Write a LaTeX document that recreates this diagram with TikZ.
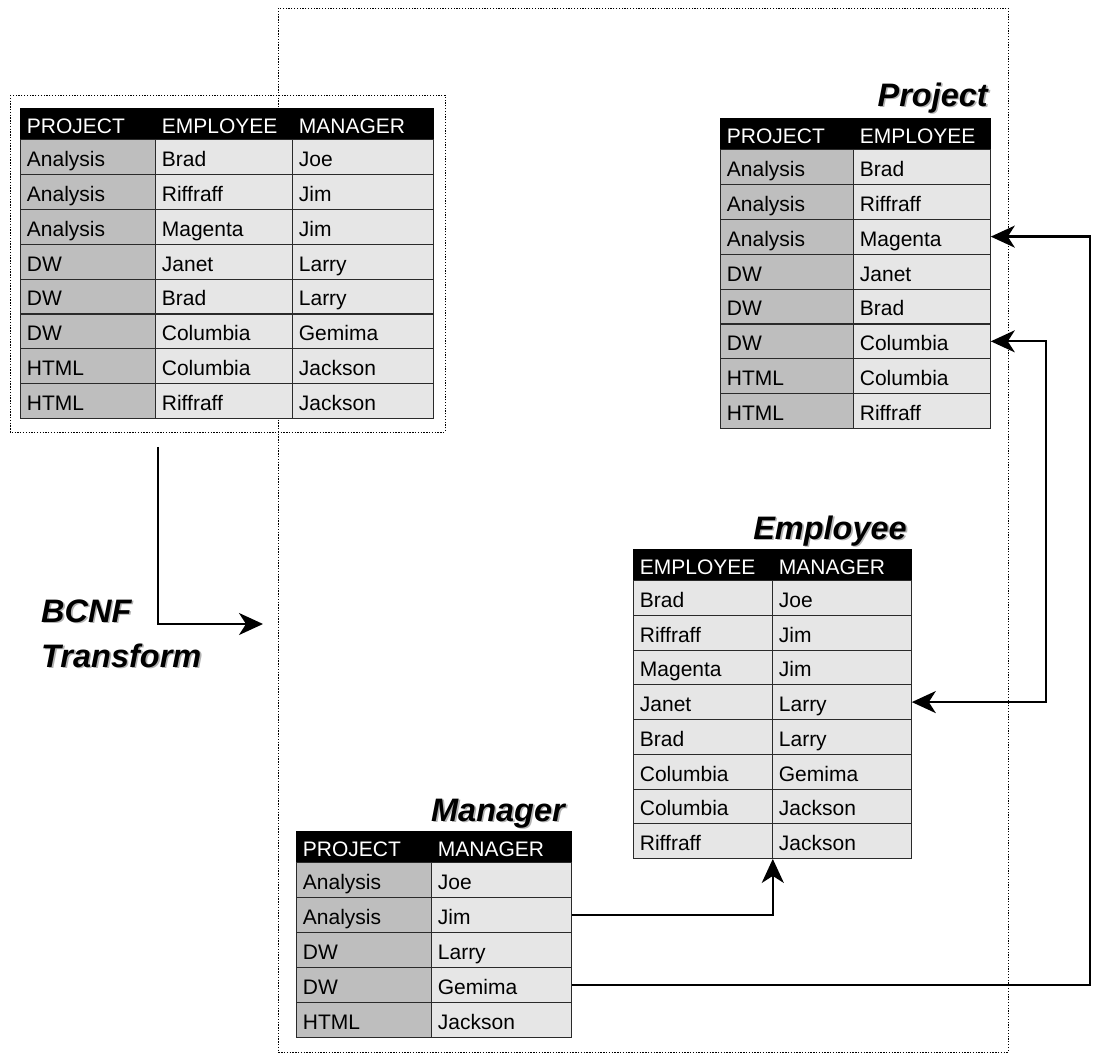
\documentclass[tikz,border=0pt]{standalone}
\usepackage{fontspec}
\setmainfont{Liberation Sans}
\usetikzlibrary{arrows.meta,positioning,calc}
\definecolor{keygray}{HTML}{BEBEBE}
\definecolor{datagray}{HTML}{E6E6E6}
\definecolor{rulegray}{HTML}{2A2A2A}
\newcommand{\cellfont}{\fontsize{21}{24}\selectfont}
\newcommand{\ttlfont}{\fontsize{32.5}{45}\selectfont\bfseries\itshape}
\newcommand{\shadowed}[1]{\makebox[0pt][l]{\hspace{1.6pt}\raisebox{-1.6pt}{\color{black!30}#1}}#1}
\tikzset{
  cell/.style={rectangle, draw=rulegray, line width=0.8pt, anchor=north west,
               text width=#1, inner xsep=6.5pt, inner ysep=0pt, align=left,
               text height=20pt, text depth=1pt, minimum height=34.85pt, font=\cellfont},
  hdr/.style={cell=#1, fill=black, draw=black, text=white, minimum height=31pt},
  keycell/.style={cell=#1, fill=keygray},
  datacell/.style={cell=#1, fill=datagray},
  ttl/.style={font=\ttlfont, anchor=base east, inner sep=0pt},
  zone/.style={draw=black, line width=1pt, dash pattern=on 1.3pt off 1.5pt},
  >={Stealth[length=24pt, width=22pt, inset=7pt]},
  link/.style={line width=2.3pt, ->},
}

\begin{document}
\begin{tikzpicture}[x=1pt, y=-1pt]
  \useasboundingbox (0,0) rectangle (1095,1055);

  % dotted zones
  \draw[zone] (278,8) rectangle (1008,1052);
  \draw[zone] (10,95) rectangle (445,432);

  % source relation
  \node[hdr=122pt] (src-h1) at (20,108) {PROJECT};
  \node[hdr=124pt] (src-h2) at (155,108) {EMPLOYEE};
  \node[hdr=128pt] (src-h3) at (292,108) {MANAGER};
  \foreach \p/\e/\m [count=\i] in {Analysis/Brad/Joe, Analysis/Riffraff/Jim,
      Analysis/Magenta/Jim, DW/Janet/Larry, DW/Brad/Larry, DW/Columbia/Gemima,
      HTML/Columbia/Jackson, HTML/Riffraff/Jackson} {
    \node[keycell=122pt] (src-\i-1) at (20,{139+(\i-1)*34.9}) {\p};
    \node[datacell=124pt] (src-\i-2) at (155,{139+(\i-1)*34.9}) {\e};
    \node[datacell=128pt] (src-\i-3) at (292,{139+(\i-1)*34.9}) {\m};
  }

  % Project
  \node[ttl] (projT) at (988,106) {\shadowed{Project}};
  \node[hdr=120pt] (proj-h1) at (720,118) {PROJECT};
  \node[hdr=124pt] (proj-h2) at (853,118) {EMPLOYEE};
  \foreach \p/\e [count=\i] in {Analysis/Brad, Analysis/Riffraff, Analysis/Magenta,
      DW/Janet, DW/Brad, DW/Columbia, HTML/Columbia, HTML/Riffraff} {
    \node[keycell=120pt] (proj-\i-1) at (720,{149+(\i-1)*34.9}) {\p};
    \node[datacell=124pt] (proj-\i-2) at (853,{149+(\i-1)*34.9}) {\e};
  }

  % Employee
  \node[ttl] (empT) at (907,539) {\shadowed{Employee}};
  \node[hdr=126pt] (emp-h1) at (633,549) {EMPLOYEE};
  \node[hdr=126pt] (emp-h2) at (772,549) {MANAGER};
  \foreach \e/\m [count=\i] in {Brad/Joe, Riffraff/Jim, Magenta/Jim, Janet/Larry,
      Brad/Larry, Columbia/Gemima, Columbia/Jackson, Riffraff/Jackson} {
    \node[datacell=126pt] (emp-\i-1) at (633,{580+(\i-1)*34.75}) {\e};
    \node[datacell=126pt] (emp-\i-2) at (772,{580+(\i-1)*34.75}) {\m};
  }

  % Manager
  \node[ttl] (mgrT) at (565,821) {\shadowed{Manager}};
  \node[hdr=122pt] (mgr-h1) at (296,831) {PROJECT};
  \node[hdr=127pt] (mgr-h2) at (431,831) {MANAGER};
  \foreach \p/\m [count=\i] in {Analysis/Joe, Analysis/Jim, DW/Larry, DW/Gemima, HTML/Jackson} {
    \node[keycell=122pt] (mgr-\i-1) at (296,{862+(\i-1)*35}) {\p};
    \node[datacell=127pt] (mgr-\i-2) at (431,{862+(\i-1)*35}) {\m};
  }

  % transform label and arrow
  \node[font=\ttlfont, align=left, anchor=base west, inner sep=0pt] (bcnf) at (41,667)
    {\shadowed{BCNF}\\\shadowed{Transform}};
  \coordinate (feed) at ([xshift=2pt, yshift=-28pt]src-8-1.south east);
  \coordinate (bcnfTip) at (263,624);
  \draw[link] (feed) |- (bcnfTip);

  % links between the new relations
  \coordinate (railA) at (1090,0);
  \coordinate (railB) at (1046,0);
  \draw[link] (mgr-2-2.east) -| (emp-8-1.south east);
  \draw[link] (mgr-4-2.east) -- (mgr-4-2.east -| railA) |- (proj-3-2.east);
  \draw[link, <->] (emp-4-2.east) -- (emp-4-2.east -| railB) |- (proj-6-2.east);
\end{tikzpicture}
\end{document}
